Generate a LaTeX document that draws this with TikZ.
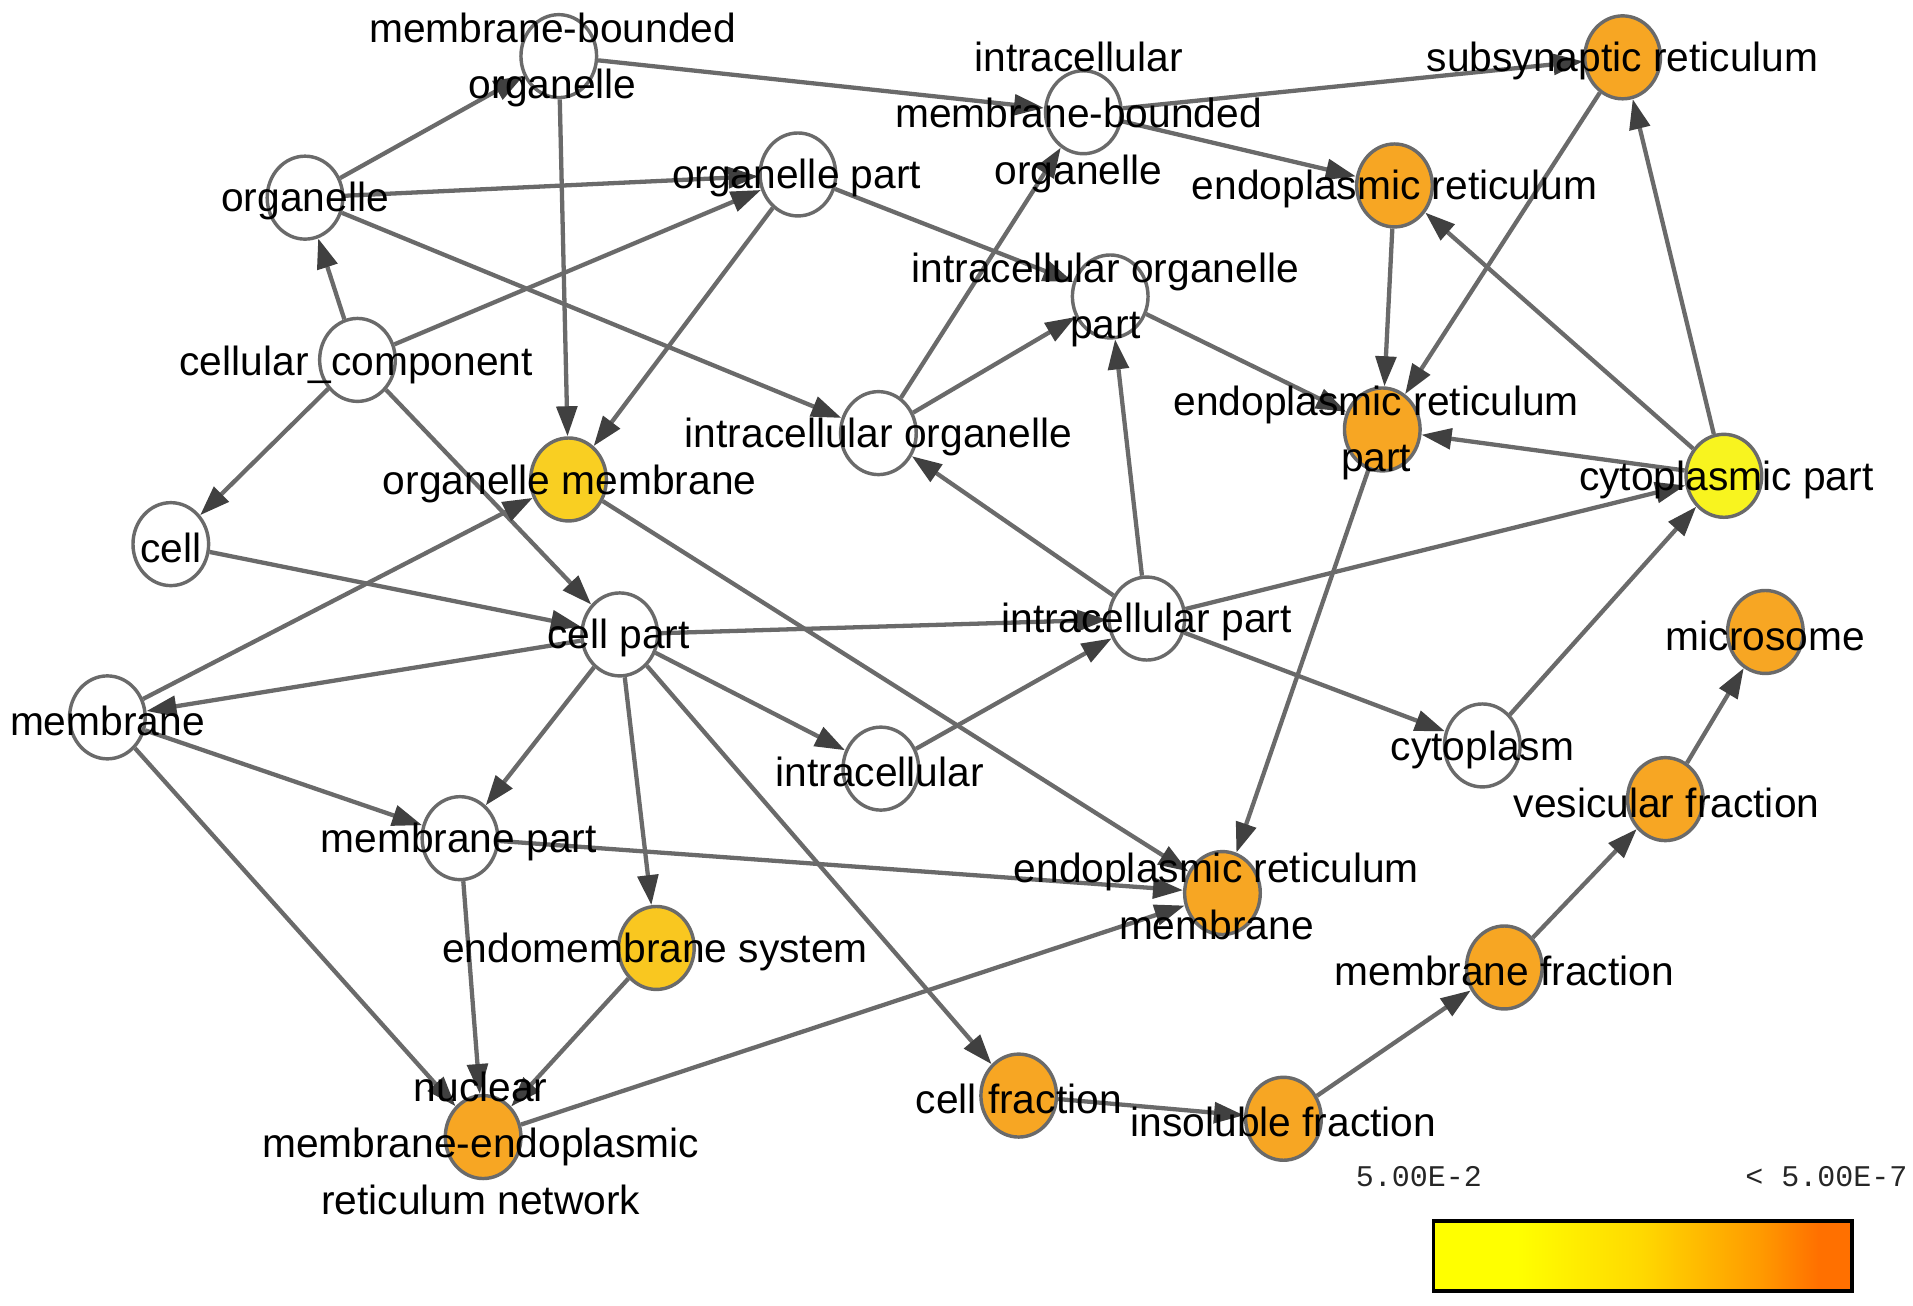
\documentclass[tikz,border=0pt]{standalone}
\usepackage{fontspec}
\setmainfont{Liberation Sans}
\newfontfamily\legendfont{Liberation Mono}
\usetikzlibrary{shapes.geometric,arrows.meta}
\definecolor{edgec}{HTML}{6A6A6A}
\definecolor{arrowc}{HTML}{404040}
\definecolor{nodeborder}{HTML}{6A6A6A}
\definecolor{orangeN}{HTML}{F7A623}
\definecolor{goldN}{HTML}{F9CF22}
\definecolor{goldNb}{HTML}{F9C720}
\definecolor{yellowN}{HTML}{F8F41F}
\definecolor{shA}{HTML}{FFFF00}
\definecolor{shB}{HTML}{FFD800}
\definecolor{shC}{HTML}{FF9A00}
\definecolor{shD}{HTML}{FF7000}
\pgfdeclarehorizontalshading{legendshade}{100bp}{color(0bp)=(shA); color(35bp)=(shA); color(50bp)=(shB); color(64bp)=(shC); color(71bp)=(shD); color(100bp)=(shD)}
\begin{document}
\begin{tikzpicture}[x=0.1mm,y=-0.1mm,
  gonode/.style={ellipse, draw=nodeborder, line width=0.8pt, minimum width=6.2mm, minimum height=6.8mm, inner sep=0pt, fill=white},
  onode/.style={gonode, fill=orangeN},
  lbl/.style={font=\fontsize{9.5}{13.2}\selectfont, align=center, inner sep=0pt, text=black, yshift=-0.3mm},
  edge/.style={draw=edgec, line width=1pt, -{Triangle[length=7pt,width=4.8pt,color=arrowc]}},
  legtxt/.style={font=\legendfont\fontsize{7}{8}\selectfont, inner sep=0pt, text=black!85}
]
\useasboundingbox[fill=white] (0,0) rectangle (1568,1070);

% circles
\node[gonode] (mbo) at (458,46) {};
\node[gonode] (org) at (250,162) {};
\node[gonode] (op) at (654,143) {};
\node[gonode] (cc) at (293,295) {};
\node[gonode] (cell) at (140,446) {};
\node[gonode, fill=goldN] (om) at (466,393) {};
\node[gonode] (imbo) at (888,92) {};
\node[onode] (ssr) at (1330,47) {};
\node[onode] (er) at (1143,152) {};
\node[gonode] (iop) at (910,243) {};
\node[gonode] (io) at (720,355) {};
\node[onode] (erp) at (1133,352) {};
\node[gonode, fill=yellowN] (cp) at (1413,390) {};
\node[gonode] (cpart) at (508,520) {};
\node[gonode] (ip) at (940,507) {};
\node[gonode] (mem) at (88,588) {};
\node[gonode] (ic) at (722,630) {};
\node[gonode] (cyto) at (1215,611) {};
\node[onode] (micro) at (1447,518) {};
\node[onode] (vf) at (1365,655) {};
\node[gonode] (mp) at (377,687) {};
\node[onode] (erm) at (1002,732) {};
\node[gonode, fill=goldNb] (es) at (538,777) {};
\node[onode] (mf) at (1233,793) {};
\node[onode] (nmer) at (396,932) {};
\node[onode] (cf) at (835,898) {};
\node[onode] (insf) at (1052,917) {};

% edges
\draw[edge] (org) -- (mbo);
\draw[edge] (org) -- (op);
\draw[edge] (org) -- (io);
\draw[edge] (cc) -- (org);
\draw[edge] (cc) -- (op);
\draw[edge] (cc) -- (cell);
\draw[edge] (cc) -- (cpart);
\draw[edge] (mbo) -- (om);
\draw[edge] (mbo) -- (imbo);
\draw[edge] (op) -- (om);
\draw[edge] (op) -- (iop);
\draw[edge] (io) -- (iop);
\draw[edge] (io) -- (imbo);
\draw[edge] (imbo) -- (ssr);
\draw[edge] (imbo) -- (er);
\draw[edge] (iop) -- (erp);
\draw[edge] (ssr) -- (erp);
\draw[edge] (er) -- (erp);
\draw[edge] (cp) -- (er);
\draw[edge] (cp) -- (ssr);
\draw[edge] (cp) -- (erp);
\draw[edge] (ip) -- (cp);
\draw[edge] (cyto) -- (cp);
\draw[edge] (ip) -- (iop);
\draw[edge] (ip) -- (io);
\draw[edge] (cpart) -- (ip);
\draw[edge] (ic) -- (ip);
\draw[edge] (ip) -- (cyto);
\draw[edge] (erp) -- (erm);
\draw[edge] (om) -- (erm);
\draw[edge] (mem) -- (om);
\draw[edge] (cell) -- (cpart);
\draw[edge] (cpart) -- (mem);
\draw[edge] (cpart) -- (ic);
\draw[edge] (cpart) -- (mp);
\draw[edge] (cpart) -- (es);
\draw[edge] (cpart) -- (cf);
\draw[edge] (mem) -- (mp);
\draw[edge] (mem) -- (nmer);
\draw[edge] (mp) -- (nmer);
\draw[edge] (mp) -- (erm);
\draw[edge] (es) -- (nmer);
\draw[edge] (nmer) -- (erm);
\draw[edge] (cf) -- (insf);
\draw[edge] (insf) -- (mf);
\draw[edge] (mf) -- (vf);
\draw[edge] (vf) -- (micro);

% labels
\node[lbl] (l-mbo) at (453,46) {membrane-bounded\\organelle};
\node[lbl] (l-org) at (250,162) {organelle};
\node[lbl] (l-op) at (653,143) {organelle part};
\node[lbl] (l-cc) at (292,296) {cellular\_component};
\node[lbl] (l-cell) at (140,446) {cell};
\node[lbl] (l-om) at (467,394) {organelle membrane};
\node[lbl] (l-imbo) at (884,93) {intracellular\\membrane-bounded\\organelle};
\node[lbl] (l-ssr) at (1330,47) {subsynaptic reticulum};
\node[lbl] (l-er) at (1143,152) {endoplasmic reticulum};
\node[lbl] (l-iop) at (906,243) {intracellular organelle\\part};
\node[lbl] (l-io) at (720,355) {intracellular organelle};
\node[lbl] (l-erp) at (1128,352) {endoplasmic reticulum\\part};
\node[lbl] (l-cp) at (1415,390) {cytoplasmic part};
\node[lbl] (l-cpart) at (507,520) {cell part};
\node[lbl] (l-ip) at (940,507) {intracellular part};
\node[lbl] (l-mem) at (88,588) {membrane};
\node[lbl] (l-ic) at (721,630) {intracellular};
\node[lbl] (l-cyto) at (1215,612) {cytoplasm};
\node[lbl] (l-micro) at (1447,518) {microsome};
\node[lbl] (l-vf) at (1366,655) {vesicular fraction};
\node[lbl] (l-mp) at (376,687) {membrane part};
\node[lbl] (l-erm) at (997,732) {endoplasmic reticulum\\membrane};
\node[lbl] (l-es) at (537,777) {endomembrane system};
\node[lbl] (l-mf) at (1233,793) {membrane fraction};
\node[lbl] (l-nmer) at (394,934) {nuclear\\membrane-endoplasmic\\reticulum network};
\node[lbl] (l-cf) at (835,898) {cell fraction};
\node[lbl] (l-insf) at (1052,917) {insoluble fraction};

% legend
\node[legtxt] (leg-lo) at (1163,964) {5.00E-2};
\node[legtxt] (leg-hi) at (1497,964) {< 5.00E-7};
\shade[shading=legendshade, draw=black, line width=0.9pt] (1175,1001) rectangle (1518,1058);
\end{tikzpicture}
\end{document}
